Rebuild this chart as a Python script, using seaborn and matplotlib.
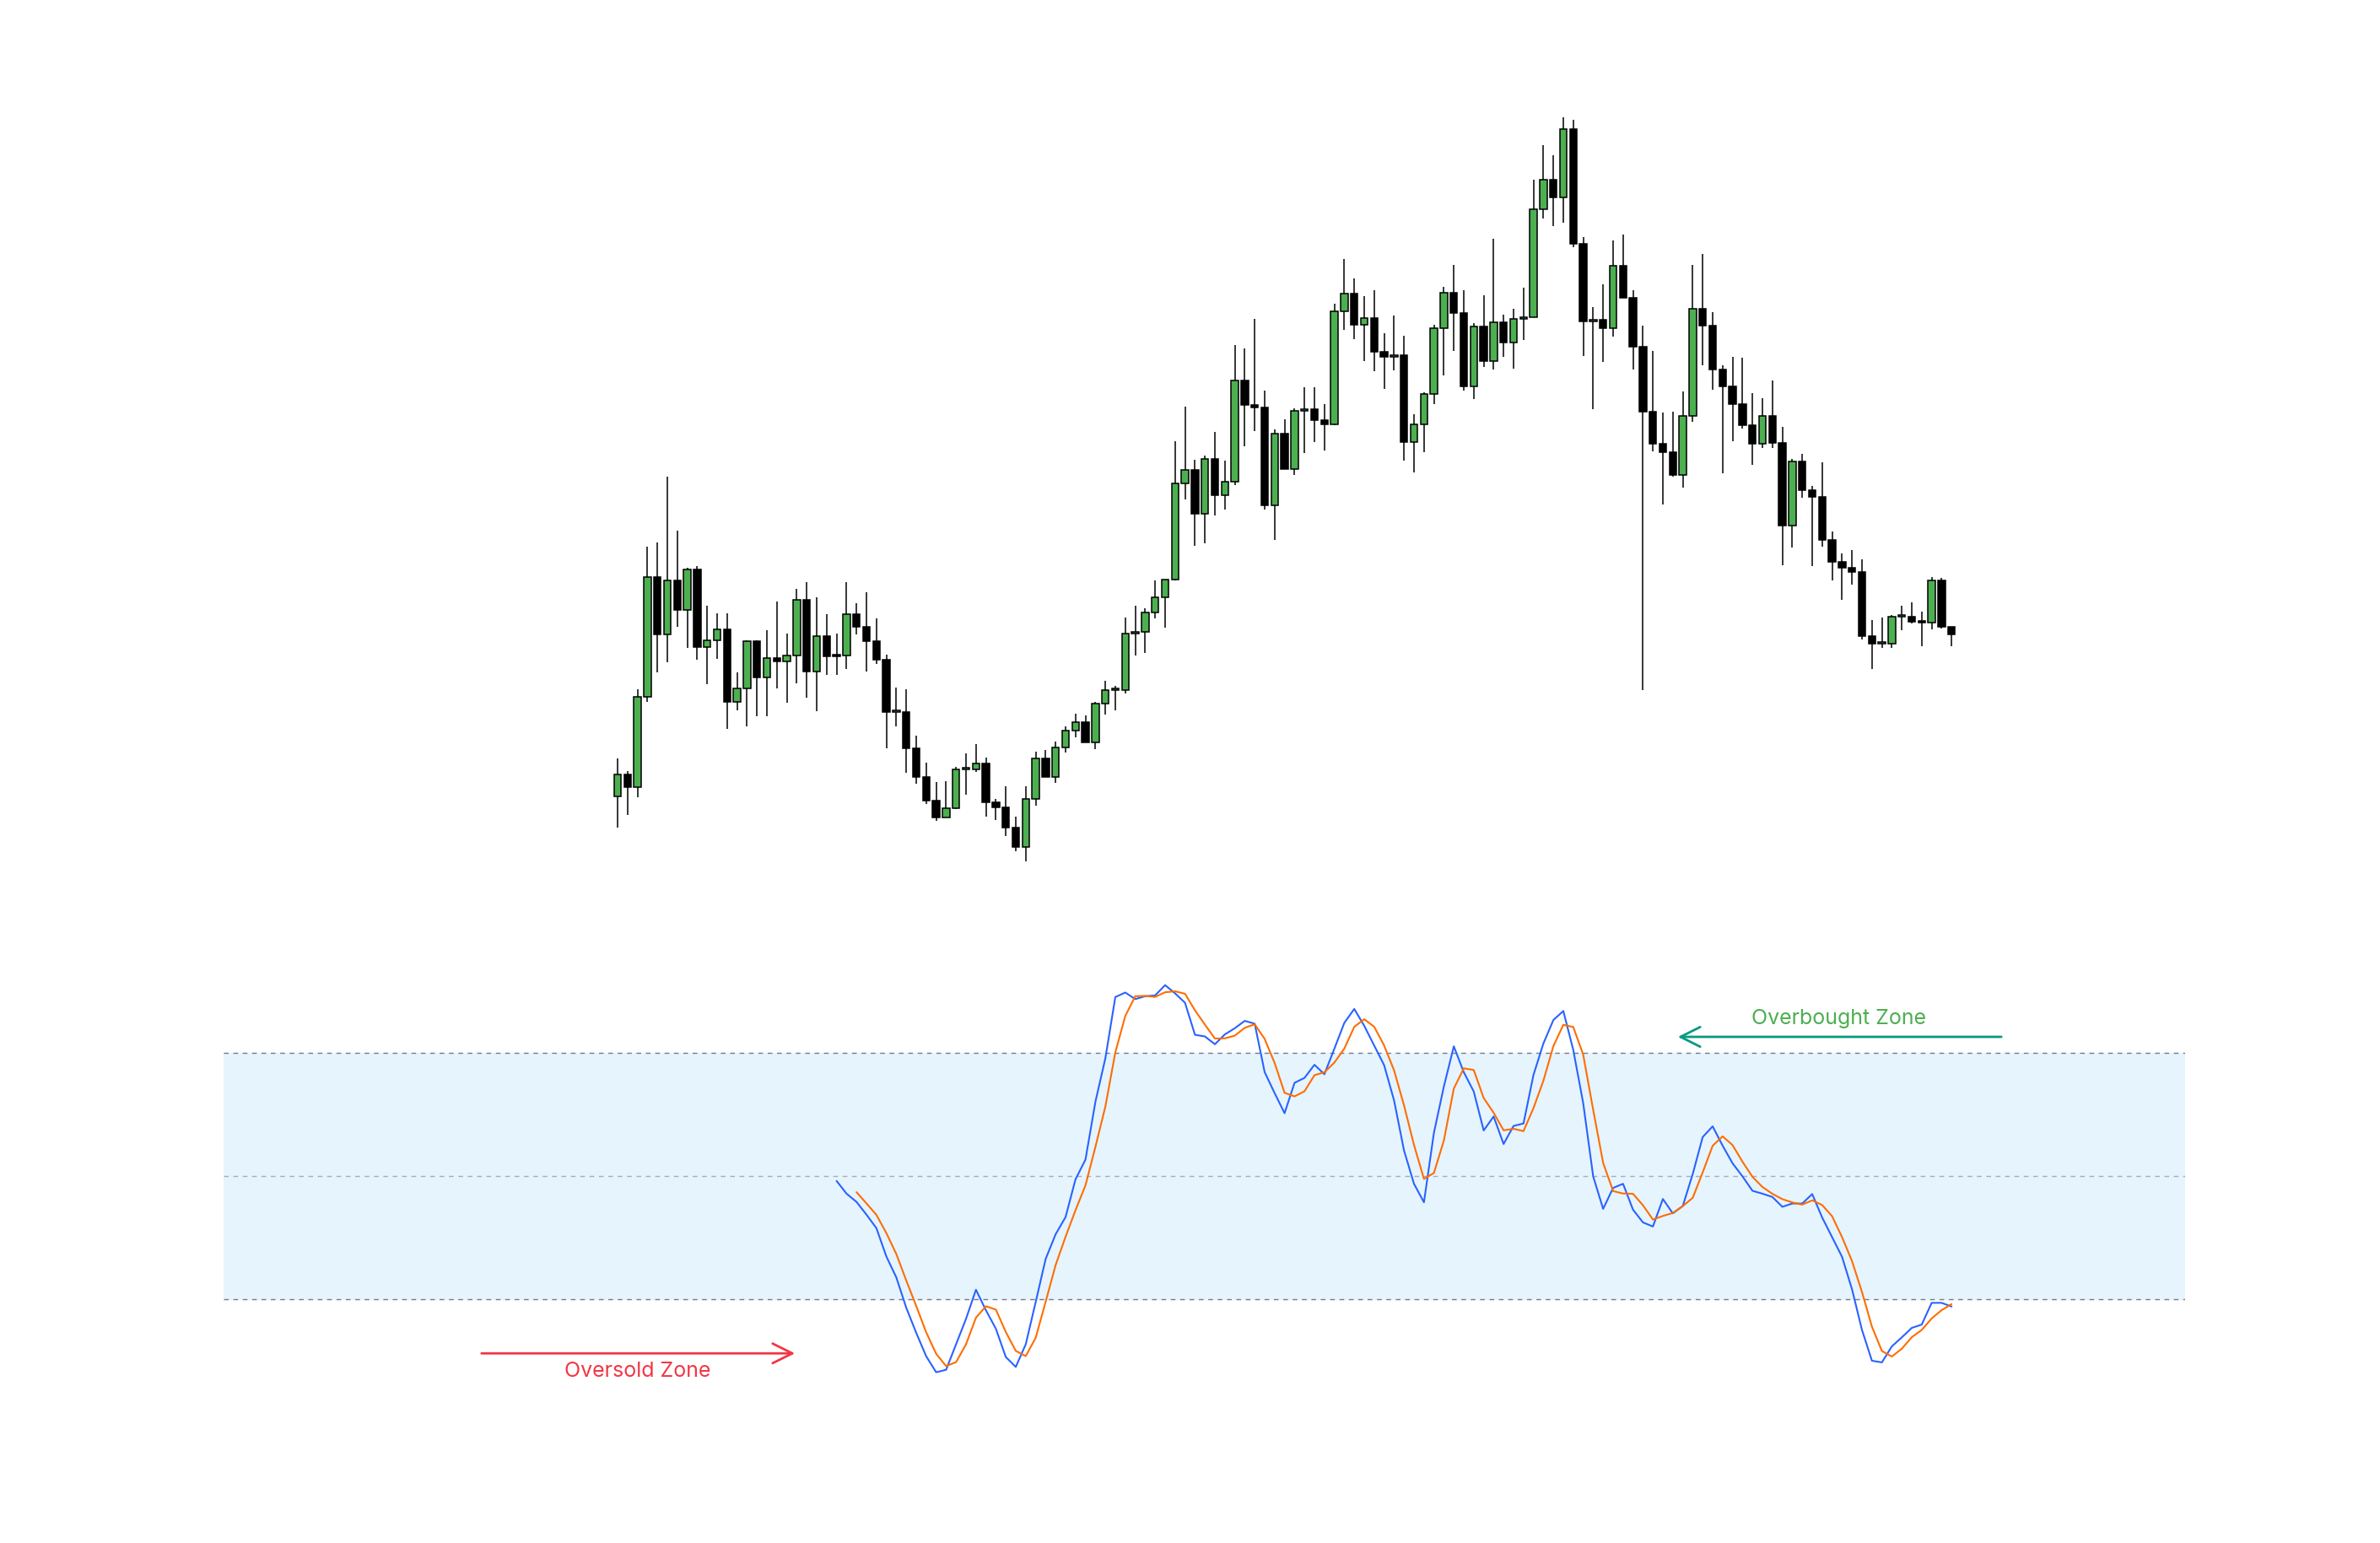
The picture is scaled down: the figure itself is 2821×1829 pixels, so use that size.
import matplotlib
matplotlib.use("Agg")
import matplotlib.pyplot as plt
import seaborn as sns
import numpy as np
import pandas as pd

sns.set_theme(style="white")
plt.rcParams['font.family'] = ['Inter', 'DejaVu Sans']

opens = [885,911,896,1003,1145,1077,1141,1106,1154,1062,1070,1083,997,1013,1069,1026,1049,1045,1052,1118,
         1033,1075,1052,1052,1101,1086,1069,1047,985,985,942,908,880,860,871,917,917,924,878,872,
         848,825,882,930,908,943,963,973,949,995,1011,1011,1078,1080,1103,1121,1142,1256,1272,1220,
         1285,1242,1258,1378,1349,1346,1230,1315,1273,1342,1344,1331,1326,1460,1481,1444,1452,1412,1406,1408,
         1305,1326,1362,1440,1482,1458,1371,1442,1401,1447,1423,1451,1453,1581,1616,1595,1676,1540,1448,1450,
         1440,1514,1476,1418,1341,1303,1293,1266,1336,1463,1443,1391,1371,1350,1325,1303,1336,1304,1206,1282,
         1248,1240,1189,1163,1156,1151,1075,1066,1066,1098,1098,1092,1091,1141,1086]
closes = [911,896,1003,1145,1077,1141,1106,1154,1062,1070,1083,997,1013,1069,1026,1049,1045,1052,1118,1033,
          1075,1051,1051,1101,1086,1069,1047,985,985,942,908,880,860,871,917,917,924,878,872,848,
          825,882,930,908,943,963,973,949,995,1011,1011,1078,1080,1103,1121,1142,1256,1272,1220,1285,
          1242,1258,1378,1349,1346,1230,1315,1273,1342,1344,1331,1326,1460,1481,1444,1452,1412,1406,1408,1305,
          1326,1362,1440,1482,1458,1371,1442,1401,1447,1423,1451,1453,1581,1616,1595,1676,1540,1448,1450,1440,
          1514,1476,1418,1341,1303,1293,1266,1336,1463,1443,1391,1371,1350,1325,1303,1336,1304,1206,1282,1248,
          1240,1189,1163,1156,1151,1075,1066,1066,1098,1098,1092,1091,1141,1086,1077]
highs = [930,915,1012,1181,1186,1264,1200,1156,1158,1111,1102,1102,1032,1070,1070,1082,1116,1078,1131,1139,
         1121,1101,1078,1139,1114,1127,1096,1053,1014,1012,957,925,902,903,920,936,947,931,882,897,
         861,897,938,940,950,968,983,981,997,1022,1016,1097,1111,1108,1141,1142,1306,1347,1284,1289,
         1317,1283,1420,1416,1451,1366,1320,1332,1345,1370,1370,1350,1469,1522,1499,1478,1485,1434,1455,1431,
         1338,1364,1444,1489,1515,1485,1446,1479,1546,1456,1463,1488,1616,1657,1645,1690,1687,1548,1465,1492,
         1544,1551,1485,1443,1413,1340,1341,1365,1515,1528,1459,1396,1406,1405,1363,1357,1378,1323,1285,1291,
         1253,1281,1199,1173,1177,1166,1094,1097,1100,1111,1115,1104,1145,1144,1086]
lows = [848,863,884,997,1032,1044,1086,1061,1047,1018,1048,965,987,968,980,980,1013,996,1019,1002,
        986,1029,1029,1036,1077,1033,1042,942,968,913,900,876,856,860,870,887,914,861,857,838,
        820,808,874,908,901,937,955,949,941,982,987,1007,1052,1055,1096,1085,1141,1237,1182,1185,
        1218,1225,1254,1300,1318,1225,1189,1273,1266,1292,1305,1295,1325,1438,1427,1401,1389,1368,1390,1283,
        1269,1293,1350,1384,1413,1366,1356,1394,1391,1406,1392,1426,1453,1570,1561,1565,1536,1407,1344,1400,
        1430,1476,1391,1011,1294,1231,1264,1251,1329,1396,1367,1268,1306,1321,1278,1298,1298,1159,1180,1239,
        1158,1181,1141,1118,1136,1071,1036,1061,1061,1082,1090,1063,1083,1084,1063]

k_start = 22
k_values = [48.8,45.7,43.7,40.6,37.3,30.4,25.3,17.9,11.8,6.1,2.2,2.8,9.0,15.2,22.3,17.3,12.8,5.9,3.5,9.0,
            19.3,29.8,35.8,40.0,49.2,54.0,68.1,78.7,93.6,94.7,93.1,93.8,94.0,96.5,94.5,92.2,84.4,84.0,82.1,84.5,
            86.0,87.8,87.1,75.3,70.2,65.3,72.7,73.9,77.1,74.8,81.0,87.3,90.7,86.6,81.8,77.0,68.4,56.2,48.1,43.6,
            60.5,71.8,81.6,75.3,70.6,61.1,64.5,57.8,62.2,62.8,74.6,82.3,88.0,90.2,80.7,67.7,49.9,42.0,47.1,48.1,
            41.8,38.7,37.7,44.4,40.9,42.7,50.5,59.5,62.1,57.4,53.1,49.9,46.4,45.7,44.9,42.5,43.3,43.3,45.6,39.9,
            35.1,30.3,22.4,12.5,5.0,4.6,8.5,10.7,13.0,13.8,19.1,19.1,18.2]

n = len(opens)
idx = np.arange(n)
osc = pd.DataFrame({"i": np.arange(k_start, k_start + len(k_values)), "k": k_values})
osc["d"] = osc["k"].rolling(3).mean()

W, H = 2821, 1829
fig = plt.figure(figsize=(W / 100, H / 100), dpi=100)
fig.patch.set_facecolor("white")
x0, step = 732, 11.8
xl = ((265 - x0) / step, (2590 - x0) / step)
def px2x(px):
    return (px - x0) / step

ax1 = fig.add_axes([265 / W, 729 / H, 2325 / W, 1000 / H])
ax2 = fig.add_axes([265 / W, (H - 1637.3) / H, 2325 / W, 486.6 / H])
for ax in (ax1, ax2):
    ax.set_xlim(*xl)
    ax.axis("off")
ax1.set_ylim(729, 1729)
ax2.set_ylim(0, 100)

o = np.array(opens); c = np.array(closes)
up = c >= o
ax1.vlines(idx, lows, highs, color="black", linewidth=1.1, zorder=1)
body_bottom = np.minimum(o, c)
body_h = np.maximum(np.abs(c - o), 2)
ax1.bar(idx[up], body_h[up], bottom=body_bottom[up], width=0.7, color="#4caf50",
        edgecolor="black", linewidth=1.1, zorder=2)
ax1.bar(idx[~up], body_h[~up], bottom=body_bottom[~up], width=0.7, color="black",
        edgecolor="black", linewidth=1.1, zorder=2)

ax2.axhspan(20, 80, color="#e6f4fd", zorder=0)
for lvl, col in ((20, "#787b86"), (50, "#a9acb4"), (80, "#787b86")):
    ax2.axhline(lvl, color=col, linestyle=(0, (4, 4)), linewidth=1.0, zorder=1)
sns.lineplot(data=osc, x="i", y="k", ax=ax2, color="#2962ff", linewidth=1.5, zorder=3)
sns.lineplot(data=osc.dropna(), x="i", y="d", ax=ax2, color="#ff6d00", linewidth=1.5, zorder=3)
ax2.set_xlim(*xl); ax2.set_ylim(0, 100); ax2.axis("off")

ax2.annotate("", xy=(px2x(945), 6.8), xytext=(px2x(568), 6.8),
             arrowprops=dict(arrowstyle="->,head_length=1.4,head_width=0.7", color="#f23645", lw=2))
ax2.text(px2x(756), 2.4, "Oversold Zone", color="#f23645", fontsize=18, ha="center", va="center")
ax2.annotate("", xy=(px2x(1986), 83.9), xytext=(px2x(2375), 83.9),
             arrowprops=dict(arrowstyle="->,head_length=1.4,head_width=0.7", color="#089981", lw=2))
ax2.text(px2x(2180), 88.4, "Overbought Zone", color="#4caf50", fontsize=18, ha="center", va="center")

fig.savefig("out.png", dpi=100, facecolor="white")
